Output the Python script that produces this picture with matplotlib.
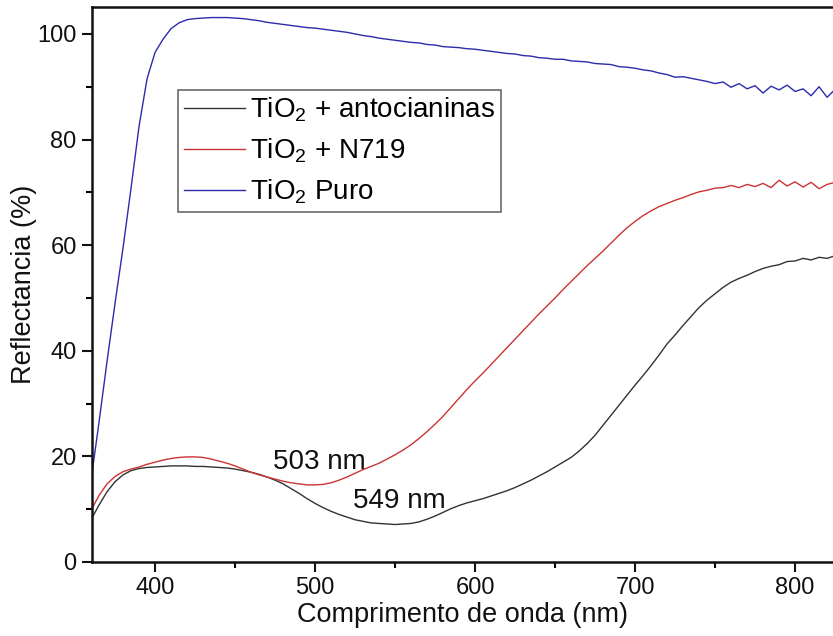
import matplotlib
matplotlib.use("Agg")
import matplotlib.pyplot as plt
from matplotlib.ticker import MultipleLocator

plt.rcParams['font.family'] = ['Liberation Sans', 'DejaVu Sans']
plt.rcParams['mathtext.default'] = 'regular'

wavelength = [360, 365, 370, 375, 380, 385, 390, 395, 400, 405, 410, 415, 420, 425, 430, 435,
              440, 445, 450, 455, 460, 465, 470, 475, 480, 485, 490, 495, 500, 505, 510, 515,
              520, 525, 530, 535, 540, 545, 550, 555, 560, 565, 570, 575, 580, 585, 590, 595,
              600, 605, 610, 615, 620, 625, 630, 635, 640, 645, 650, 655, 660, 665, 670, 675,
              680, 685, 690, 695, 700, 705, 710, 715, 720, 725, 730, 735, 740, 745, 750, 755,
              760, 765, 770, 775, 780, 785, 790, 795, 800, 805, 810, 815, 820, 825]

antocianinas = [8.0, 10.8, 13.3, 15.2, 16.5, 17.3, 17.7, 17.9, 18.0, 18.1, 18.2, 18.2, 18.2, 18.1, 18.1, 18.0,
                17.9, 17.8, 17.6, 17.3, 17.0, 16.6, 16.1, 15.5, 14.8, 13.9, 13.0, 12.0, 11.1, 10.3, 9.6, 9.0,
                8.5, 8.0, 7.7, 7.4, 7.3, 7.2, 7.1, 7.2, 7.3, 7.6, 8.1, 8.7, 9.4, 10.1, 10.7, 11.2,
                11.6, 12.0, 12.5, 13.0, 13.5, 14.1, 14.8, 15.5, 16.3, 17.1, 18.0, 18.9, 19.8, 21.0, 22.4, 24.0,
                25.9, 27.8, 29.7, 31.6, 33.5, 35.3, 37.2, 39.2, 41.3, 43.0, 44.8, 46.5, 48.2, 49.6, 50.8, 52.0,
                53.0, 53.7, 54.3, 55.0, 55.6, 56.0, 56.3, 56.9, 57.0, 57.5, 57.2, 57.7, 57.5, 58.0]

n719 = [9.8, 12.6, 14.8, 16.2, 17.1, 17.6, 18.0, 18.5, 18.9, 19.3, 19.6, 19.8, 19.9, 19.9, 19.8, 19.5,
        19.1, 18.7, 18.2, 17.6, 17.0, 16.5, 16.1, 15.7, 15.3, 15.0, 14.8, 14.6, 14.6, 14.7, 15.0, 15.5,
        16.1, 16.8, 17.5, 18.1, 18.7, 19.5, 20.3, 21.2, 22.2, 23.4, 24.7, 26.1, 27.6, 29.3, 31.0, 32.7,
        34.3, 35.8, 37.4, 39.0, 40.6, 42.2, 43.8, 45.4, 47.0, 48.5, 50.0, 51.6, 53.1, 54.6, 56.1, 57.5,
        58.9, 60.4, 61.9, 63.3, 64.5, 65.6, 66.5, 67.3, 67.9, 68.5, 69.0, 69.6, 70.1, 70.4, 70.8, 70.9,
        71.3, 70.9, 71.5, 71.1, 71.7, 70.9, 72.3, 71.2, 72.0, 71.0, 71.9, 70.7, 71.5, 71.9]

puro = [15.5, 26.5, 38.0, 49.0, 59.5, 70.8, 82.5, 91.5, 96.5, 99.0, 101.0, 102.1, 102.7, 102.9, 103.0, 103.1,
        103.1, 103.1, 103.0, 102.9, 102.7, 102.5, 102.2, 102.0, 101.8, 101.6, 101.4, 101.2, 101.1, 100.9, 100.7, 100.5,
        100.3, 100.0, 99.7, 99.5, 99.2, 99.0, 98.8, 98.6, 98.4, 98.3, 98.0, 97.9, 97.6, 97.5, 97.4, 97.2,
        97.1, 96.9, 96.7, 96.5, 96.3, 96.2, 95.9, 95.8, 95.5, 95.4, 95.2, 95.2, 94.9, 94.8, 94.7, 94.4,
        94.3, 94.2, 93.8, 93.7, 93.5, 93.2, 93.0, 92.6, 92.3, 91.8, 91.9, 91.6, 91.3, 91.0, 90.6, 90.9,
        89.9, 90.6, 89.6, 90.2, 88.8, 90.1, 89.4, 90.3, 89.1, 89.6, 88.3, 90.0, 88.0, 89.5]

labels = [r'TiO$_2$ + antocianinas', r'TiO$_2$ + N719', r'TiO$_2$ Puro']
colors = ['#333333', '#cc3333', '#2b2bab']

annot_text = ['503 nm', '549 nm']
annot_x = [474, 524]
annot_y = [18.9, 11.6]

fig = plt.figure(figsize=(8.33, 6.36), dpi=100)
ax = fig.add_axes([92 / 833, 74 / 636, 1 - 92 / 833, (562 - 7) / 636])

for series, lab, c in zip([antocianinas, n719, puro], labels, colors):
    ax.plot(wavelength, series, color=c, lw=1.0, label=lab)

for t, x, y in zip(annot_text, annot_x, annot_y):
    ax.text(x, y, t, fontsize=20, ha='left', va='center', color='#111111')

ax.set_xlim(360.6, 823.7)
ax.set_ylim(0, 105.1)
ax.xaxis.set_major_locator(MultipleLocator(100))
ax.xaxis.set_minor_locator(MultipleLocator(50))
ax.yaxis.set_major_locator(MultipleLocator(20))
ax.yaxis.set_minor_locator(MultipleLocator(10))
ax.tick_params(which='major', direction='out', length=7, width=1.5, labelsize=17, pad=4,
               top=False, right=False, colors='#111111')
ax.tick_params(which='minor', direction='out', length=4, width=1.5, top=False, right=False)
for s in ['left', 'bottom', 'top']:
    ax.spines[s].set_linewidth(1.8)
    ax.spines[s].set_color('#111111')
ax.spines['right'].set_visible(False)

ax.set_xlabel('Comprimento de onda (nm)', fontsize=19.5, labelpad=2, color='#111111')
ax.set_ylabel('Reflectancia (%)', fontsize=19.5, labelpad=0, color='#111111')

leg = ax.legend(loc='upper left', bbox_to_anchor=(178 / 833, 1 - 90 / 636),
                bbox_transform=fig.transFigure, fontsize=20, frameon=True, fancybox=False,
                edgecolor='#444444', handlelength=2.2, handletextpad=0.2, labelspacing=0.45,
                borderpad=0.2, borderaxespad=0)
leg.get_frame().set_linewidth(1.2)

fig.savefig('out.png', dpi=100)
